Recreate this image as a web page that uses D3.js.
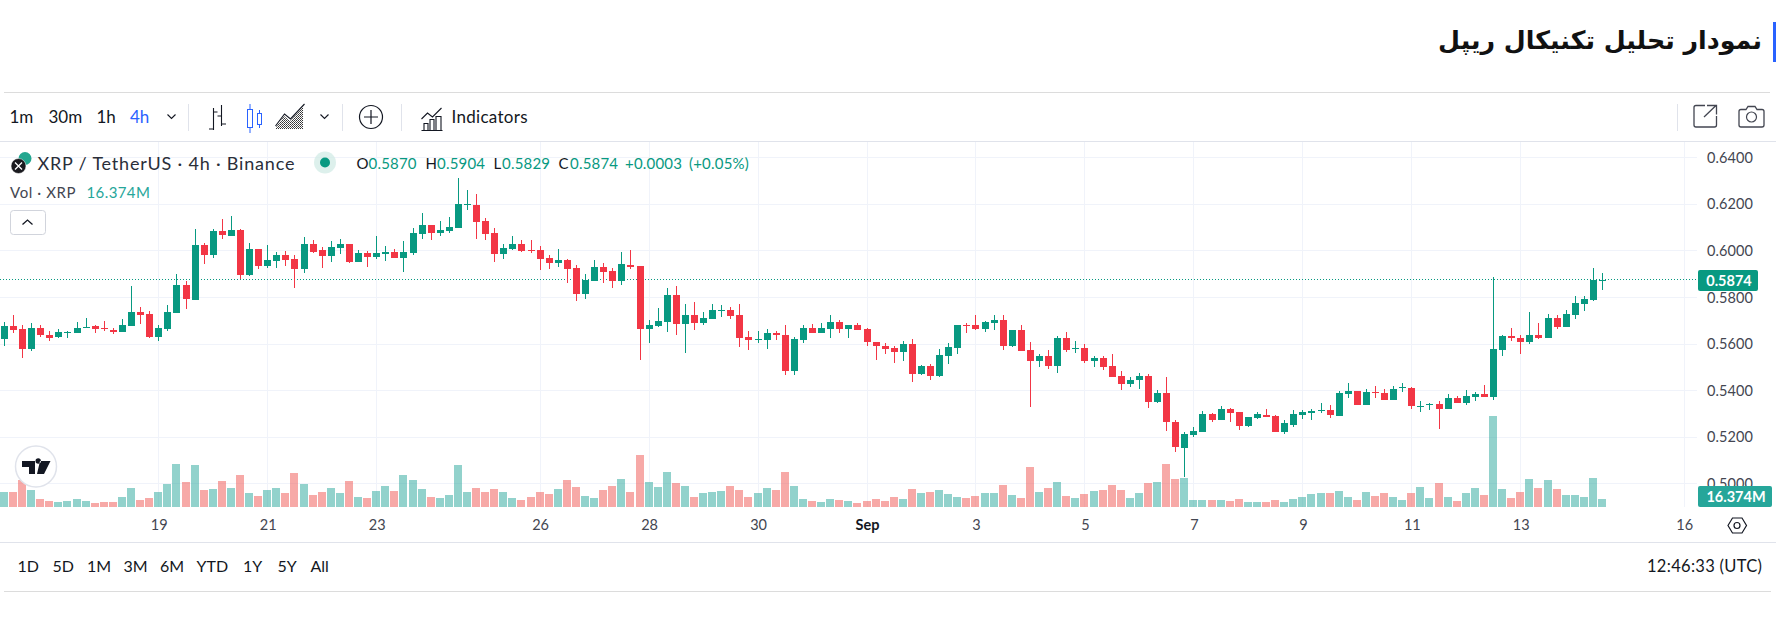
<!DOCTYPE html>
<html>
<head>
<meta charset="utf-8">
<script src="https://cdn.jsdelivr.net/npm/d3@7"></script>
<style>
  html, body { margin: 0; padding: 0; background: #fff; }
  svg { display: block; }
  text { font-family: Lato, "Noto Sans", sans-serif; }
</style>
</head>
<body>
<div id="chart"></div>
<script>
// candles, 4h, oldest first
const opens = [.5620,.5676,.5663,.5577,.5667,.5637,.5629,.5647,.5646,.5667,.5676,.5667,.5659,.5650,.5676,.5736,.5727,.5629,.5663,.5732,
  .5852,.5787,.6023,.5980,.6083,.6062,.6088,.5895,.6006,.5933,.5955,.5980,.5963,.5920,.6028,.6002,.5976,.6010,.6028,.5950,
  .5989,.5972,.5985,.5993,.5968,.5989,.6071,.6109,.6075,.6083,.6096,.6196,.6195,.6126,.6075,.5985,.6006,.6028,.6002,.6002,
  .5968,.5946,.5959,.5925,.5813,.5869,.5929,.5912,.5869,.5938,.5933,.5663,.5676,.5693,.5809,.5684,.5723,.5688,.5706,.5741,
  .5744,.5723,.5628,.5615,.5615,.5645,.5637,.5482,.5615,.5667,.5645,.5663,.5693,.5663,.5680,.5663,.5607,.5590,.5581,.5564,
  .5598,.5469,.5504,.5461,.5547,.5581,.5680,.5680,.5663,.5688,.5701,.5590,.5658,.5572,.5525,.5547,.5504,.5624,.5577,.5581,
  .5525,.5538,.5504,.5461,.5426,.5444,.5461,.5349,.5388,.5263,.5152,.5208,.5220,.5298,.5272,.5319,.5306,.5246,.5280,.5293,
  .5289,.5220,.5250,.5293,.5302,.5311,.5315,.5289,.5383,.5396,.5336,.5392,.5388,.5358,.5410,.5410,.5328,.5337,.5341,.5320,
  .5367,.5345,.5371,.5384,.5371,.5573,.5633,.5624,.5607,.5637,.5624,.5710,.5672,.5723,.5770,.5787,.5870];
const highs = [.5693,.5723,.5680,.5689,.5680,.5654,.5663,.5654,.5693,.5710,.5680,.5697,.5667,.5706,.5847,.5757,.5740,.5680,.5766,.5899,
  .5869,.6092,.6032,.6092,.6135,.6148,.6092,.6032,.6006,.6023,.5993,.5998,.5980,.6058,.6045,.6015,.6040,.6049,.6028,.6002,
  .5998,.6062,.6019,.6006,.6040,.6096,.6161,.6109,.6126,.6144,.6311,.6259,.6242,.6139,.6096,.6028,.6062,.6045,.6045,.6019,
  .5980,.6006,.5963,.5938,.5899,.5959,.5946,.5925,.5993,.6002,.5933,.5701,.5753,.5839,.5847,.5770,.5779,.5736,.5770,.5766,
  .5757,.5770,.5654,.5654,.5663,.5654,.5680,.5628,.5680,.5684,.5688,.5723,.5701,.5680,.5688,.5667,.5607,.5603,.5590,.5611,
  .5620,.5508,.5512,.5577,.5603,.5680,.5688,.5723,.5697,.5723,.5723,.5658,.5680,.5607,.5555,.5572,.5632,.5650,.5611,.5598,
  .5547,.5547,.5555,.5482,.5456,.5474,.5469,.5401,.5456,.5272,.5220,.5242,.5311,.5302,.5332,.5323,.5306,.5285,.5306,.5319,
  .5293,.5272,.5315,.5315,.5319,.5345,.5336,.5396,.5431,.5396,.5405,.5418,.5405,.5418,.5431,.5414,.5354,.5345,.5354,.5384,
  .5375,.5401,.5393,.5423,.5886,.5637,.5667,.5637,.5736,.5689,.5727,.5723,.5744,.5805,.5805,.5925,.5904];
const lows = [.5590,.5646,.5538,.5568,.5629,.5611,.5624,.5624,.5646,.5667,.5646,.5654,.5641,.5650,.5676,.5684,.5624,.5611,.5654,.5732,
  .5749,.5787,.5942,.5968,.6049,.6062,.5877,.5890,.5920,.5925,.5925,.5933,.5839,.5903,.5989,.5925,.5950,.5985,.5946,.5950,
  .5929,.5963,.5955,.5968,.5907,.5980,.6049,.6045,.6062,.6075,.6096,.6174,.6049,.6045,.5950,.5963,.6002,.5993,.5989,.5916,
  .5920,.5929,.5860,.5783,.5792,.5869,.5860,.5839,.5852,.5920,.5530,.5603,.5671,.5650,.5637,.5560,.5659,.5680,.5706,.5714,
  .5706,.5585,.5572,.5603,.5577,.5615,.5465,.5465,.5603,.5645,.5645,.5624,.5645,.5624,.5658,.5590,.5530,.5555,.5517,.5525,
  .5435,.5465,.5444,.5457,.5512,.5555,.5645,.5658,.5650,.5658,.5572,.5585,.5568,.5328,.5500,.5491,.5474,.5564,.5559,.5517,
  .5499,.5486,.5456,.5401,.5414,.5405,.5323,.5345,.5225,.5135,.5027,.5199,.5220,.5263,.5272,.5263,.5229,.5242,.5276,.5285,
  .5220,.5212,.5242,.5276,.5272,.5302,.5280,.5289,.5366,.5336,.5336,.5366,.5358,.5358,.5393,.5320,.5307,.5315,.5234,.5320,
  .5345,.5337,.5354,.5371,.5358,.5547,.5611,.5556,.5599,.5620,.5624,.5663,.5672,.5706,.5740,.5783,.5829];
const closes = [.5676,.5659,.5577,.5667,.5637,.5624,.5650,.5650,.5667,.5671,.5663,.5663,.5650,.5680,.5736,.5723,.5629,.5667,.5736,.5852,
  .5792,.6023,.5980,.6083,.6066,.6088,.5895,.6006,.5933,.5959,.5980,.5959,.5920,.6028,.5993,.5976,.6015,.6028,.5950,.5989,
  .5972,.5989,.5993,.5968,.5993,.6075,.6109,.6075,.6088,.6101,.6199,.6199,.6122,.6071,.5985,.6010,.6028,.5998,.5998,.5963,
  .5946,.5959,.5920,.5813,.5873,.5929,.5907,.5869,.5942,.5929,.5663,.5680,.5697,.5809,.5684,.5723,.5689,.5710,.5744,.5744,
  .5718,.5624,.5615,.5620,.5645,.5637,.5482,.5620,.5667,.5645,.5667,.5693,.5663,.5680,.5658,.5607,.5590,.5577,.5564,.5598,
  .5469,.5504,.5461,.5551,.5585,.5680,.5675,.5663,.5693,.5701,.5590,.5658,.5568,.5525,.5547,.5504,.5624,.5572,.5581,.5525,
  .5538,.5499,.5456,.5426,.5444,.5461,.5349,.5388,.5263,.5156,.5212,.5225,.5298,.5272,.5319,.5302,.5246,.5285,.5298,.5285,
  .5220,.5259,.5298,.5306,.5311,.5315,.5293,.5388,.5396,.5336,.5392,.5388,.5358,.5405,.5414,.5332,.5332,.5341,.5320,.5367,
  .5345,.5375,.5384,.5371,.5577,.5633,.5624,.5607,.5637,.5624,.5710,.5672,.5727,.5775,.5792,.5873,.5874];
// millions of XRP
const volumes = [30.7,30.7,55.2,34.8,16.4,12.3,10.2,12.3,16.4,12.3,8.2,10.2,10.2,20.5,38.9,14.3,18.4,30.7,47.1,88,
  51.2,85.9,34.8,36.8,53.2,38.9,65.5,28.6,22.5,34.8,38.9,28.6,69.6,47.1,24.6,30.7,38.9,28.6,53.2,20.5,
  18.4,32.7,43,32.7,65.5,55.2,36.8,20.5,18.4,24.6,85.9,30.7,38.9,30.7,36.8,30.7,18.4,14.3,20.5,30.7,
  26.6,36.8,55.2,40.9,22.5,18.4,34.8,43,57.3,30.7,106.4,51.2,40.9,71.6,49.1,43,20.5,28.6,30.7,32.7,
  43,34.8,20.5,28.6,38.9,34.8,71.6,43,16.4,12.3,10.2,16.4,14.3,12.3,8.2,12.3,16.4,12.3,20.5,16.4,
  36.8,28.6,30.7,34.8,26.6,20.5,18.4,22.5,28.6,28.6,45,24.6,18.4,81.8,30.7,38.9,51.2,22.5,18.4,26.6,
  32.7,34.8,45,34.8,18.4,28.6,49.1,51.2,88,57.3,59.3,14.3,14.3,14.3,14.3,12.3,16.4,10.2,10.2,10.2,
  14.3,10.2,16.4,20.5,26.6,28.6,28.6,32.7,20.5,14.3,30.7,22.5,28.6,20.5,14.3,28.6,40.9,18.4,49.1,20.5,
  12.3,28.6,38.9,24.6,186.2,36.8,18.4,30.7,57.3,38.9,55.2,36.8,24.6,24.6,20.5,59.3,16.374];

const priceTicks = [0.50,0.52,0.54,0.56,0.58,0.60,0.62,0.64];
const dayTickIndex = [17,29,41,59,71,83,95,107,119,131,143,155,167,185];
const dayLabels = ["19","21","23","26","28","30","Sep","3","5","7","9","11","13","16"];
const intervals = ["1m","30m","1h","4h"];
const ranges = ["1D","5D","1M","3M","6M","YTD","1Y","5Y","All"];
const lastPrice = 0.5874;
const lastVolume = "16.374M";

const W = 1776, H = 617;
const GREEN = "#089981", RED = "#f23645", TEAL = "#26a69a", INK = "#131722", AXIS = "#434651";
const LINE = "#e0e3eb", GRID = "#f0f3fa";

const svg = d3.select("#chart").append("svg").attr("width", W).attr("height", H);

// scales
const x = d3.scaleLinear().domain([0, 185]).range([4.4, 1684.2]);
const y = d3.scaleLinear().domain([0.50, 0.64]).range([483.4, 157.2]);
const v = d3.scaleLinear().domain([0, 186.2]).range([507, 416]);
const snap = d => Math.floor(x(d)) + 0.5;
const paneTop = 142, paneBottom = 507, paneRight = 1697;

// page title
svg.append("text").attr("x", 1762).attr("y", 49)
  .attr("direction", "rtl").attr("text-anchor", "start")
  .style("font-family", "'DejaVu Sans'").style("font-weight", "bold").style("font-size", "25.3px")
  .attr("fill", "#111").text("نمودار تحلیل تکنیکال ریپل");
svg.append("rect").attr("x", 1773).attr("y", 22).attr("width", 3).attr("height", 40).attr("fill", "#2962ff");

// frame rules
[[4, 1770, 92.5], [0, 1776, 141.5], [0, 1776, 542.5], [4, 1771, 591.5]].forEach(r => {
  svg.append("line").attr("x1", r[0]).attr("x2", r[1]).attr("y1", r[2]).attr("y2", r[2])
    .attr("stroke", r[2] === 92.5 || r[2] === 591.5 ? "#dcdcdc" : LINE).attr("stroke-width", 1);
});

// grid
svg.append("g").selectAll("line").data(priceTicks).join("line")
  .attr("x1", 0).attr("x2", paneRight)
  .attr("y1", d => Math.round(y(d)) + 0.5).attr("y2", d => Math.round(y(d)) + 0.5)
  .attr("stroke", GRID).attr("stroke-width", 1);
svg.append("g").selectAll("line").data(dayTickIndex).join("line")
  .attr("x1", snap).attr("x2", snap)
  .attr("y1", paneTop).attr("y2", paneBottom)
  .attr("stroke", GRID).attr("stroke-width", 1);

// price axis
svg.append("g").attr("transform", `translate(1697,0.5)`)
  .call(d3.axisRight(y).tickValues(priceTicks).tickFormat(d3.format(".4f")).tickSize(0).tickPadding(10))
  .call(g => g.select(".domain").remove())
  .selectAll("text").style("font-size", "14.5px").style("font-family", "Lato").style("letter-spacing", "0.1px").attr("fill", AXIS);

// time axis
svg.append("g").attr("transform", `translate(0,520)`)
  .call(d3.axisBottom(x).tickValues(dayTickIndex)
    .tickFormat((d, i) => dayLabels[i]).tickSize(0).tickPadding(0))
  .call(g => g.select(".domain").remove())
  .selectAll("text").style("font-size", "14.5px").style("font-family", "Lato").attr("fill", AXIS)
  .style("font-weight", d => d === 95 ? "bold" : "normal").attr("fill", d => d === 95 ? INK : AXIS);

// volume
svg.append("g").selectAll("rect").data(volumes).join("rect")
  .attr("x", (d, i) => snap(i) - 4.5)
  .attr("width", 8)
  .attr("y", d => Math.round(v(d)))
  .attr("height", d => paneBottom - Math.round(v(d)))
  .attr("fill", (d, i) => closes[i] >= opens[i] ? TEAL : "#ef5350")
  .attr("fill-opacity", 0.5)
  .attr("shape-rendering", "crispEdges");

// last price line
svg.append("line").attr("x1", 0).attr("x2", paneRight)
  .attr("y1", Math.floor(y(lastPrice)) + 0.5).attr("y2", Math.floor(y(lastPrice)) + 0.5)
  .attr("stroke", GREEN).attr("stroke-width", 1).attr("stroke-dasharray", "1 2");

// candles
const candles = svg.append("g").attr("shape-rendering", "crispEdges");
opens.forEach((o, i) => {
  const c = closes[i], col = c >= o ? GREEN : RED;
  candles.append("line").attr("x1", snap(i)).attr("x2", snap(i))
    .attr("y1", y(highs[i])).attr("y2", y(lows[i])).attr("stroke", col).attr("stroke-width", 1);
  const top = Math.round(y(Math.max(o, c))), bot = Math.round(y(Math.min(o, c)));
  candles.append("rect").attr("x", snap(i) - 3.5).attr("width", 7)
    .attr("y", top).attr("height", Math.max(1, bot - top)).attr("fill", col);
});

// axis labels for the last values
svg.append("rect").attr("x", 1698).attr("y", 270).attr("width", 60).attr("height", 21).attr("rx", 2).attr("fill", GREEN);
svg.append("text").attr("x", 1729).attr("y", 285.5).attr("text-anchor", "middle")
  .attr("fill", "#fff").style("font-size", "14.5px").style("font-weight", "bold").text(d3.format(".4f")(lastPrice));
svg.append("rect").attr("x", 1698).attr("y", 486).attr("width", 74).attr("height", 21).attr("rx", 2).attr("fill", TEAL);
svg.append("text").attr("x", 1736).attr("y", 501.5).attr("text-anchor", "middle")
  .attr("fill", "#fff").style("font-size", "14.5px").style("font-weight", "bold").text(lastVolume);

// legend
function label(txt, px, py, size, fill, spacing) {
  return svg.append("text").attr("x", px).attr("y", py).attr("fill", fill)
    .style("font-size", size + "px").style("letter-spacing", (spacing || 0) + "px").text(txt);
}
svg.append("circle").attr("cx", 25).attr("cy", 158.5).attr("r", 6.5).attr("fill", "#23a68f");
svg.append("circle").attr("cx", 18.5).attr("cy", 166).attr("r", 7.5).attr("fill", "#1a1a1f").attr("stroke", "#fff").attr("stroke-width", 0.5);
svg.append("path").attr("d", "M15 162.5l7 7M22 162.5l-7 7").attr("stroke", "#fff").attr("stroke-width", 1.3);
label("XRP / TetherUS · 4h · Binance", 37.5, 169.5, 18, "#2a2e39", 0.8);
svg.append("circle").attr("cx", 325).attr("cy", 162.5).attr("r", 11).attr("fill", "#cfe9e4").attr("opacity", 0.7);
svg.append("circle").attr("cx", 325).attr("cy", 162.5).attr("r", 5).attr("fill", GREEN);

const ohlc = [["O", "0.5870", 356.5, 368.5], ["H", "0.5904", 425.5, 437], ["L", "0.5829", 493.5, 502], ["C", "0.5874", 558.5, 570]];
ohlc.forEach(d => {
  label(d[0], d[2], 168.5, 15, INK);
  label(d[1], d[3], 168.5, 15, GREEN, 0.2);
});
label("+0.0003", 625, 168.5, 15, GREEN, 0.2);
label("(+0.05%)", 689, 168.5, 15, GREEN, 0.2);
label("Vol · XRP", 10, 197.5, 15, AXIS, 0.6);
label(lastVolume, 86.5, 197.5, 15, TEAL, 0.4);

// collapse button
svg.append("rect").attr("x", 10.5).attr("y", 210.5).attr("width", 35).attr("height", 24).attr("rx", 3)
  .attr("fill", "#fff").attr("stroke", "#d1d4dc");
svg.append("path").attr("d", "M22.5 224.5l5-4.5 5 4.5").attr("fill", "none").attr("stroke", INK).attr("stroke-width", 1.3);

// toolbar
const intervalX = [9.5, 48.5, 96.5, 130];
intervals.forEach((d, i) => label(d, intervalX[i], 122.5, 17, d === "4h" ? "#2962ff" : INK));
function icon(dpath, stroke, sw) {
  return svg.append("path").attr("d", dpath).attr("fill", "none")
    .attr("stroke", stroke || INK).attr("stroke-width", sw || 1.1);
}
const chev = cx => `M${cx - 4} 114.5l4 4 4-4`;
icon(chev(171.5)); icon(chev(324.5));
[188.5, 342.5, 401.5, 1677.5].forEach(sx => {
  svg.append("line").attr("x1", sx).attr("x2", sx).attr("y1", 104).attr("y2", 131).attr("stroke", LINE);
});
// bars type
icon("M213.5 108v22M209 129h4.5M213.5 112h4M221.5 105v21M217.5 116h4M221.5 124h4.5");
// candles type
svg.append("g").call(g => {
  g.append("rect").attr("x", 247.5).attr("y", 109.5).attr("width", 5).attr("height", 18).attr("fill", "none").attr("stroke", "#2962ff");
  g.append("rect").attr("x", 257.5).attr("y", 113.5).attr("width", 4).attr("height", 11).attr("fill", "none").attr("stroke", "#2962ff");
  g.append("path").attr("d", "M250 104v5M250 128v5M259.5 110v3M259.5 125v3").attr("stroke", "#2962ff").attr("fill", "none");
});
// area type, hatched
const hatch = svg.append("defs").append("pattern").attr("id", "hatch")
  .attr("width", 2).attr("height", 2).attr("patternUnits", "userSpaceOnUse");
hatch.append("rect").attr("width", 1).attr("height", 1).attr("fill", "#333");
hatch.append("rect").attr("x", 1).attr("y", 1).attr("width", 1).attr("height", 1).attr("fill", "#555");
svg.append("path").attr("d", "M276 127l8-11 6 5 13-14v22h-27z").attr("fill", "url(#hatch)");
icon("M275.5 126l9-12 6 5 14-15");
// add symbol
svg.append("circle").attr("cx", 371).attr("cy", 117).attr("r", 11.5).attr("fill", "none").attr("stroke", INK).attr("stroke-width", 1.2);
icon("M371 110v14M364 117h14", INK, 1.2);
// indicators
icon("M421.5 130.5h21M424 130.5v-7h4v7M430 130.5v-11h4v11M436 130.5v-14h5v14M421.5 119l6-6 5 4 9-9");
label("Indicators", 451.5, 122.5, 17, INK, 0.3);
// share and camera
icon("M1705 105.5h-9a2 2 0 0 0-2 2v17.5a2 2 0 0 0 2 2h18.5a2 2 0 0 0 2-2v-9M1704 117l12-11.5M1707 105.5h9.5v9", AXIS, 1.3);
icon("M1741 109.5h5l2-3h7l2 3h5a2 2 0 0 1 2 2v13.5a2 2 0 0 1-2 2h-21a2 2 0 0 1-2-2v-13.5a2 2 0 0 1 2-2z", AXIS, 1.3);
svg.append("circle").attr("cx", 1751.5).attr("cy", 117).attr("r", 5).attr("fill", "none").attr("stroke", AXIS).attr("stroke-width", 1.2);

// TradingView mark
svg.append("circle").attr("cx", 36).attr("cy", 466.5).attr("r", 20.5).attr("fill", "#fff").attr("stroke", LINE).attr("stroke-width", 1.5);
svg.append("path").attr("fill", INK)
  .attr("d", "M22 461h13v13h-6v-7h-7zM40 461h10.5l-6.5 13h-7zM35.5 461a2.7 2.7 0 1 0 5.4 0a2.7 2.7 0 1 0-5.4 0z");

// settings hexagon
icon("M1728 525.5l4.5-7.5h9.5l4.5 7.5-4.5 7.5h-9.5z", INK, 1.2);
svg.append("circle").attr("cx", 1737).attr("cy", 525.5).attr("r", 3).attr("fill", "none").attr("stroke", INK).attr("stroke-width", 1.2);

// range row
const rangeX = [17.5, 52.5, 87, 123.5, 160, 196.5, 243, 277.5, 310.5];
ranges.forEach((d, i) => label(d, rangeX[i], 572, 16, INK));
label("12:46:33 (UTC)", 1647, 572, 16.5, INK, 0.3);
</script>
</body>
</html>
